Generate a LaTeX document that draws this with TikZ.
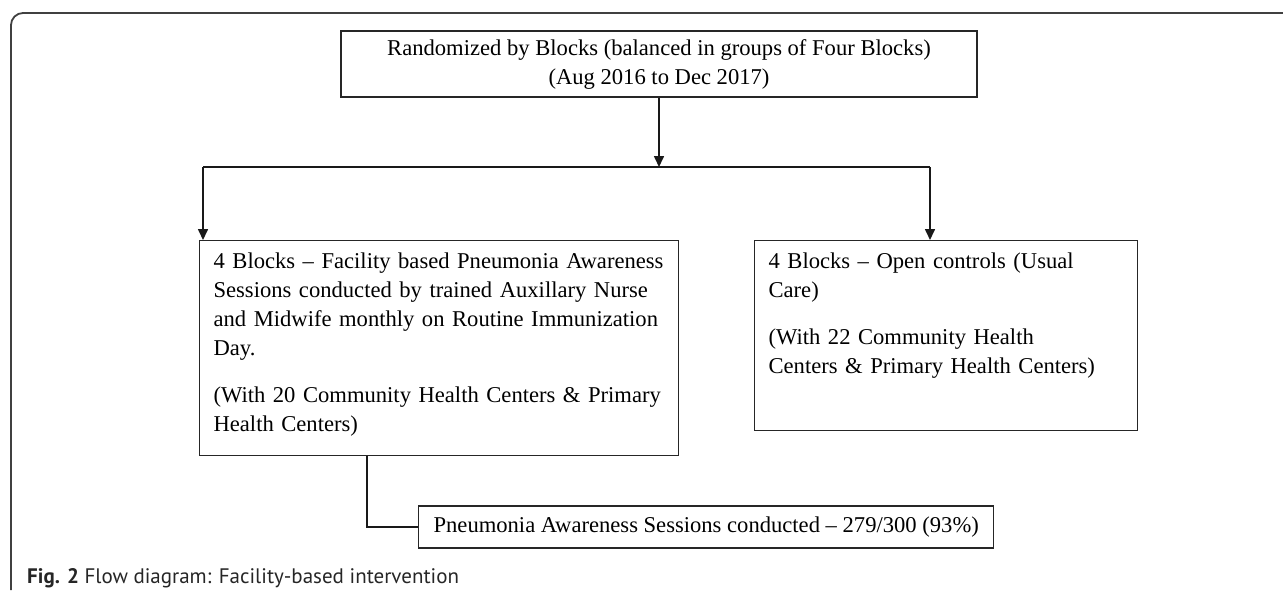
\documentclass[tikz,border=0pt]{standalone}
\usepackage{fontspec}
\setmainfont{Liberation Serif}
\newfontfamily\capfont{PT Sans}
\usetikzlibrary{arrows.meta,positioning}

\begin{document}
\begin{tikzpicture}[x=1pt,y=-1pt,
  >={Triangle[length=11pt,width=10pt]},
  font=\fontsize{22.6}{29}\selectfont,
  box/.style={draw=black!85, line width=1.2pt, inner xsep=14pt, inner ysep=8pt},
  armbox/.style={box, anchor=north west, align=left, text height=20pt},
  link/.style={line width=1.6pt, draw=black!90},
  rail/.style={line width=2pt, draw=black!90},
]
\useasboundingbox (0,0) rectangle (1283,590);

% outer panel frame, cut by the page edge on the right and bottom
\draw[line width=1.8pt, black!75, rounded corners=12pt] (11,590) -- (11,13) -- (1283,13);

% randomisation
\node[box, align=center, minimum width=636pt, minimum height=66pt] (rand) at (659,64)
  {Randomized by Blocks (balanced in groups of Four Blocks)\\(Aug 2016 to Dec 2017)};

% the two arms, top-aligned text
\node[armbox, text width=451pt, text depth=179pt] (fac) at (199,240)
  {4 Blocks -- Facility based Pneumonia Awareness\\
   Sessions conducted by trained Auxillary Nurse\\
   and Midwife monthly on Routine Immunization\\
   Day.\\[18pt]
   (With 20 Community Health Centers \& Primary\\
   Health Centers)};
\node[armbox, text width=355pt, text depth=154pt] (ctrl) at (754,240)
  {4 Blocks -- Open controls (Usual\\
   Care)\\[18pt]
   (With 22 Community Health\\
   Centers \& Primary Health Centers)};

% outcome of the facility arm
\node[box, anchor=west, minimum height=42pt, inner xsep=15pt] (sess) at (418,527)
  {Pneumonia Awareness Sessions conducted -- 279/300 (93\%)};

% split rail
\coordinate (splitL) at (203,167);
\coordinate (splitR) at (930,167);
\coordinate (tap) at (367,0);
\draw[link,->] (rand.south) -- (rand.south |- splitR);
\draw[rail] (splitL) -- (splitR);
\draw[link,->] (splitL) -- (splitL |- fac.north);
\draw[link,->] (splitR) -- (splitR |- ctrl.north);
\draw[rail] (tap |- fac.south) |- (sess.west);

\node[anchor=base west, inner sep=0pt, text=black!85, font=\capfont\fontsize{21}{25}\selectfont] (cap) at (27,583)
  {\textbf{Fig. 2} Flow diagram: Facility-based intervention};
\end{tikzpicture}
\end{document}
